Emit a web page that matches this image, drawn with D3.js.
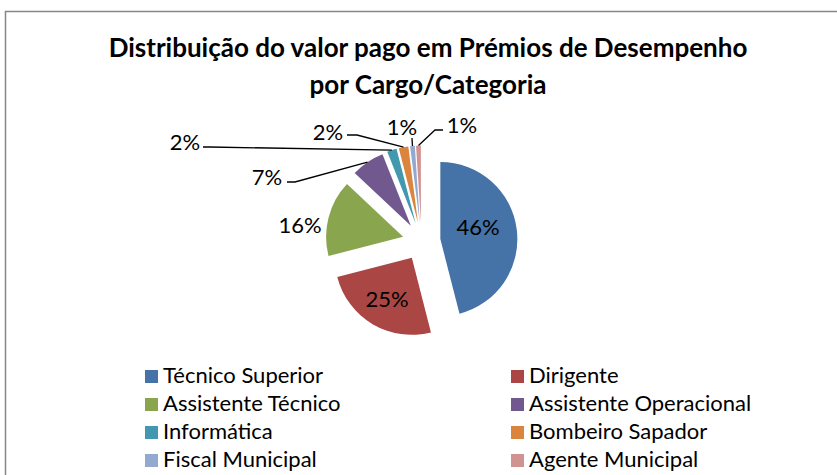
<!DOCTYPE html>
<html lang="pt">
<head>
<meta charset="UTF-8" />
<title>Prémios de Desempenho</title>
<script src="https://d3js.org/d3.v7.min.js"></script>
<style>
  html, body { margin: 0; padding: 0; background: #fff; }
  svg { display: block; }
  text { font-family: Lato, "Open Sans", sans-serif; fill: #000; }
</style>
</head>
<body>
<div class="chart"></div>
<script>
  // data
  const categories = ["Técnico Superior", "Dirigente", "Assistente Técnico", "Assistente Operacional",
                      "Informática", "Bombeiro Sapador", "Fiscal Municipal", "Agente Municipal"];
  const shares = [46, 25, 16, 7, 2, 2, 1, 1];
  const colors = ["#4572A7", "#AA4643", "#89A54E", "#71588F", "#4198AF", "#DB843D", "#93A9CF", "#D19392"];
  const titleLines = ["Distribuição do valor pago em Prémios de Desempenho", "por Cargo/Categoria"];

  const width = 837, height = 475;
  const cx = 421.5, cy = 241.5, radius = 77, explode = 19;

  // label placement (offset from pie centre), leader start offset from label, elbow length
  const labelOffsets = [[56.5, -14.5], [-34.5, 57.5], [-121.5, -16.5], [-154.5, -64.5],
                        [-236.5, -99.5], [-93.5, -109.5], [-19.5, -114.5], [40.5, -116.5]];
  const leaders = [null, null, null, [20, 5, 8], [18, 5, 7], [19, 3, 10], [10, 11, 0], [-19, 5, -8]];

  let svg = d3.select(".chart").append("svg")
      .attr("width", width)
      .attr("height", height);

  svg.append("rect")
    .attr("x", 5.5).attr("y", 11.5)
    .attr("width", 900).attr("height", 600)
    .attr("fill", "none")
    .attr("stroke", "#868686")
    .attr("stroke-width", 1.5);

  svg.append("g").selectAll("text")
    .data(titleLines)
    .enter()
    .append("text")
    .attr("x", 428)
    .attr("y", (d, i) => 57 + i * 37)
    .attr("text-anchor", "middle")
    .attr("font-size", 26)
    .attr("font-weight", "bold")
    .text(d => d);

  const pie = d3.pie().sort(null).value(d => d);
  const arcs = pie(shares);
  const arc = d3.arc().innerRadius(0).outerRadius(radius);

  // unit vector for the slice bisector (d3 angles: 0 at 12 o'clock, clockwise)
  const dir = a => {
    let m = (a.startAngle + a.endAngle) / 2;
    return [Math.sin(m), -Math.cos(m)];
  };

  let g = svg.append("g").attr("transform", `translate(${cx},${cy})`);

  g.selectAll("path")
    .data(arcs)
    .enter()
    .append("path")
    .attr("transform", d => {
      let [ux, uy] = dir(d);
      return `translate(${ux * explode},${uy * explode})`;
    })
    .attr("fill", (d, i) => colors[i])
    .attr("d", arc);

  // leader lines
  g.selectAll("path.leader")
    .data(arcs.filter((d, i) => leaders[i]))
    .enter()
    .append("path")
    .attr("class", "leader")
    .attr("fill", "none")
    .attr("stroke", "#000")
    .attr("stroke-width", 1.3)
    .attr("d", d => {
      let [lx, ly] = labelOffsets[d.index];
      let [sx, sy, h] = leaders[d.index];
      let [ux, uy] = dir(d);
      let p0 = [lx + sx, ly + sy];
      let p1 = [p0[0] + h, p0[1]];
      let p2 = [ux * (radius + explode), uy * (radius + explode)];
      return d3.line()([p0, p1, p2]);
    });

  g.selectAll("text.pct")
    .data(arcs)
    .enter()
    .append("text")
    .attr("class", "pct")
    .attr("x", (d, i) => labelOffsets[i][0])
    .attr("y", (d, i) => labelOffsets[i][1])
    .attr("dy", "0.36em")
    .attr("text-anchor", "middle")
    .attr("font-size", 22)
    .text(d => d.data + "%");

  // legend, two columns
  let legend = svg.append("g").selectAll("g")
    .data(categories)
    .enter()
    .append("g")
    .attr("transform", (d, i) => `translate(${i % 2 ? 511 : 145},${370 + Math.floor(i / 2) * 28})`);

  legend.append("rect")
    .attr("width", 13).attr("height", 13)
    .attr("fill", (d, i) => colors[i]);

  legend.append("text")
    .attr("x", 18)
    .attr("y", 13)
    .attr("font-size", 22)
    .text(d => d);
</script>
</body>
</html>
